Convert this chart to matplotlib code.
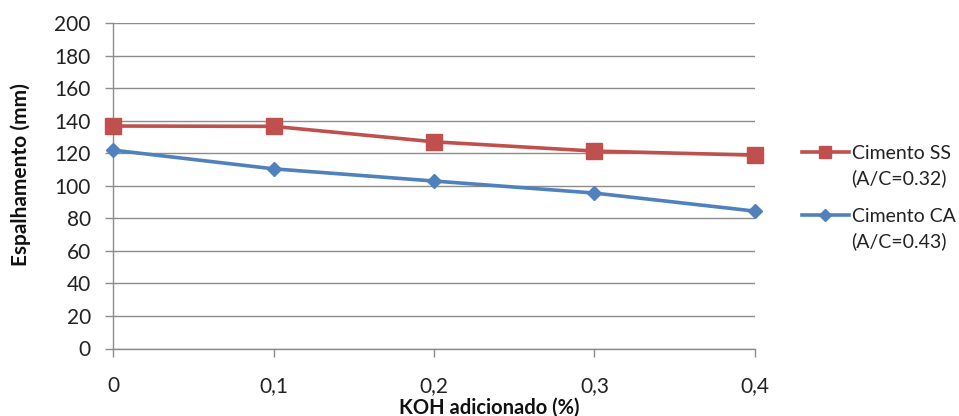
import matplotlib
matplotlib.use("Agg")
import matplotlib.pyplot as plt

plt.rcParams['font.family'] = ['Lato', 'DejaVu Sans']

koh_labels = ["0", "0,1", "0,2", "0,3", "0,4"]
cimento_ss = [136.7, 136.5, 127.0, 121.3, 118.8]
cimento_ca = [121.9, 110.4, 102.9, 95.5, 84.4]
series_labels = ["Cimento SS\n(A/C=0.32)", "Cimento CA\n(A/C=0.43)"]
y_ticks = list(range(0, 201, 20))

red = "#C0504D"
blue = "#4F81BD"
grid_col = "#8C8C8C"
text_col = "#222222"

W, H = 959, 416
fig = plt.figure(figsize=(W / 100, H / 100), dpi=100)
ax = fig.add_axes([113 / W, 1 - 348.5 / H, (755 - 113) / W, (348.5 - 23) / H])

x = list(range(len(koh_labels)))
ax.plot(x, cimento_ss, color=red, lw=2.6, marker="s", ms=11, label=series_labels[0],
        zorder=3, clip_on=False)
ax.plot(x, cimento_ca, color=blue, lw=2.6, marker="D", ms=7.5, label=series_labels[1],
        zorder=3, clip_on=False)

ax.set_xlim(0, len(koh_labels) - 1)
ax.set_ylim(0, 200)
ax.set_yticks(y_ticks)
ax.set_xticks(x)
ax.set_xticklabels(koh_labels)
ax.yaxis.grid(True, color=grid_col, lw=1)
ax.set_axisbelow(True)
for s in ("top", "right"):
    ax.spines[s].set_visible(False)
for s in ("left", "bottom"):
    ax.spines[s].set_color(grid_col)
    ax.spines[s].set_linewidth(1)
ax.tick_params(axis="both", colors=grid_col, length=6, width=1, labelsize=15, labelcolor=text_col)
ax.tick_params(axis="x", pad=14)
ax.tick_params(axis="y", pad=10)

ax.set_ylabel("Espalhamento (mm)", fontsize=15, fontweight="bold", color="#111111")
ax.yaxis.set_label_coords(-0.128, 0.533)
ax.set_xlabel("KOH adicionado (%)", fontsize=14.5, fontweight="bold", color="#111111")
ax.xaxis.set_label_coords(0.586, -0.150)

leg = ax.legend(loc="upper left", bbox_to_anchor=(802 / W, 1 - 145 / H),
                bbox_transform=fig.transFigure, frameon=False, fontsize=14,
                handlelength=2.4, handletextpad=0.15, labelspacing=1.05,
                borderpad=0, borderaxespad=0, markerscale=0.8)
for col in leg._legend_handle_box.get_children():
    for row in col.get_children():
        row.align = "top"
for t in leg.get_texts():
    t.set_color(text_col)
    t.set_linespacing(1.5)

fig.savefig("out.png", dpi=100)
